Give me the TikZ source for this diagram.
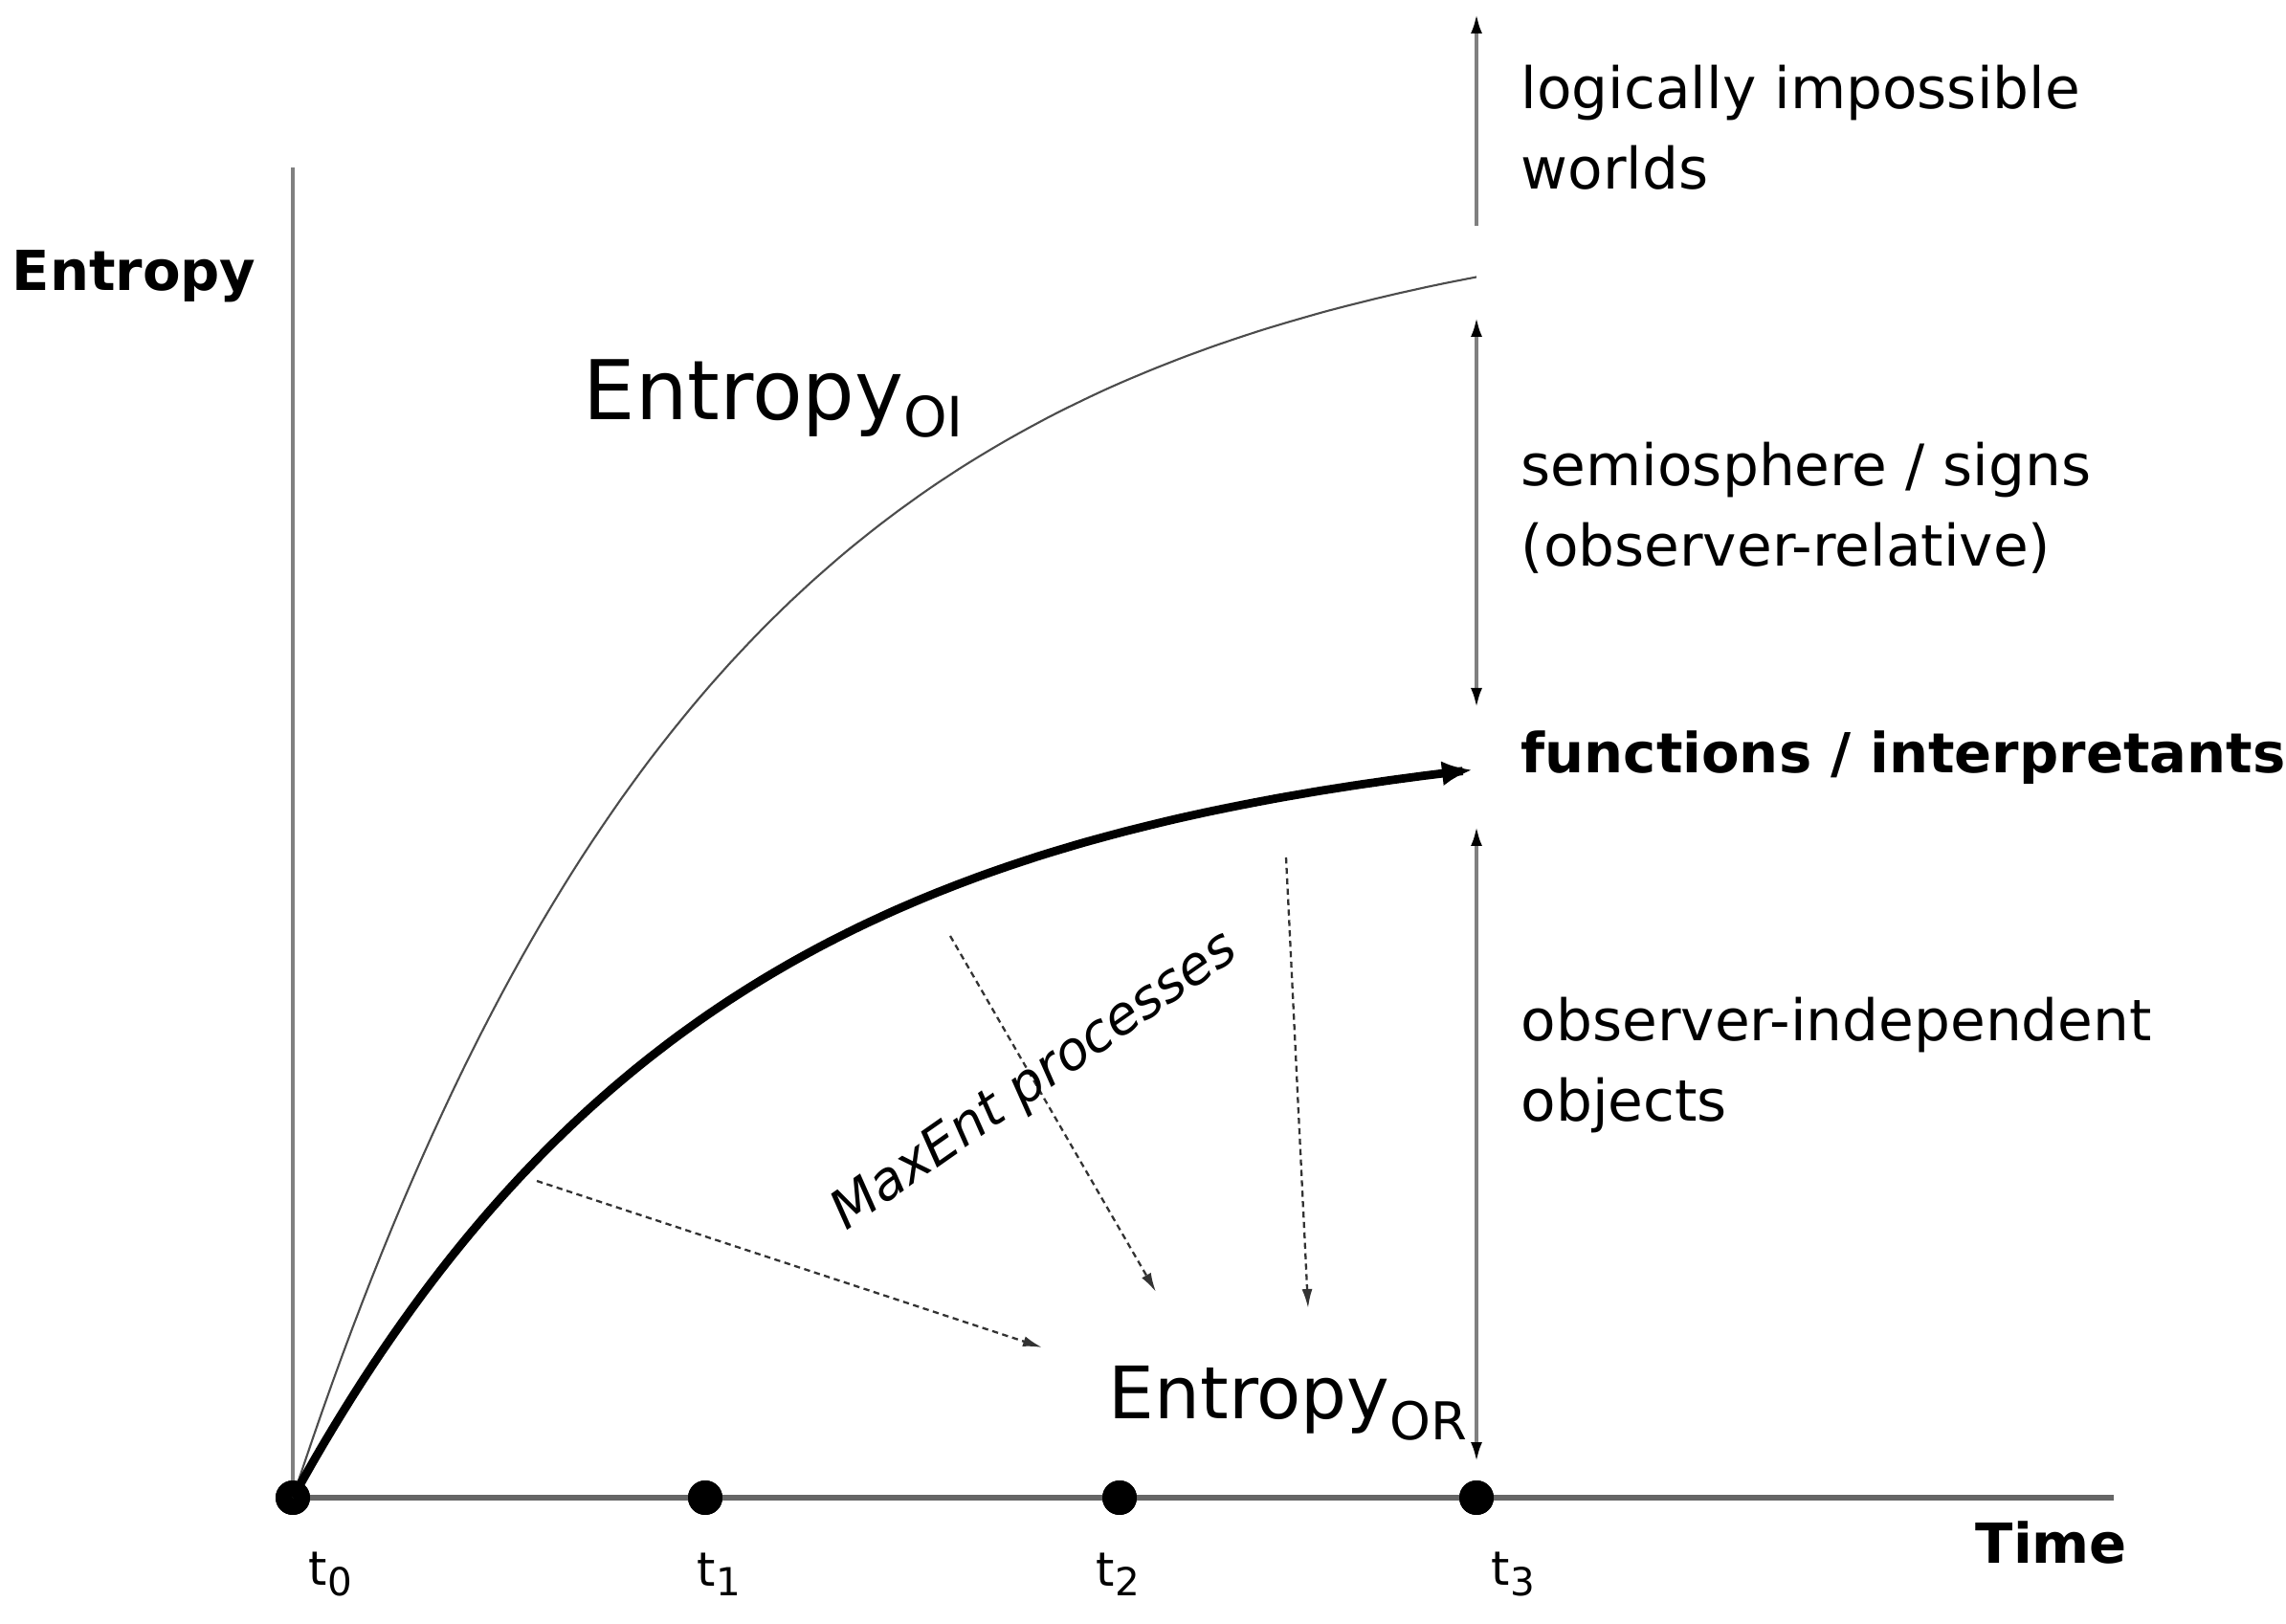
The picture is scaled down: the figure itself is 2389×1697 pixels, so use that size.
\documentclass[tikz,border=0pt]{standalone}
\usepackage{fontspec}
\setmainfont{DejaVu Sans}
\usetikzlibrary{arrows.meta}
\begin{document}
\begin{tikzpicture}[x=0.1mm,y=-0.1mm,
  dot/.style={circle,fill=black,inner sep=0pt,minimum size=3.6mm},
  axisline/.style={draw=black!60,line width=1.7pt},
  yaxisline/.style={draw=black!50,line width=0.9pt},
  rangearrow/.style={draw=black!50,line width=0.9pt},
  dasharrow/.style={draw=black!80,line width=0.65pt,dash pattern=on 1.8pt off 1.3pt,-{Latex[length=2mm,width=1.1mm]}},
  thincurve/.style={draw=black!70,line width=0.6pt},
  thickcurve/.style={draw=black,line width=2.5pt,-{Latex[length=3.2mm,width=2.6mm]}},
  txt/.style={font=\fontsize{17}{23.9}\selectfont,align=left,anchor=west,inner sep=0pt},
  boldtxt/.style={font=\fontsize{16.4}{20}\selectfont\bfseries,anchor=west,inner sep=0pt},
  tlabel/.style={font=\fontsize{14}{16}\selectfont,anchor=west,inner sep=0pt},
]
\useasboundingbox[fill=white] (0,0) rectangle (2389,1697);
\newcommand{\tsub}[1]{t\raisebox{-3pt}{\fontsize{11.5}{12}\selectfont #1}}

% axes
\coordinate (ytop) at (306,175);
\coordinate (xend) at (2209,1565);
\node[dot] (t0) at (306,1565) {};
\node[dot] (t1) at (737,1565) {};
\node[dot] (t2) at (1170,1565) {};
\node[dot] (t3) at (1543,1565) {};
\draw[yaxisline] (ytop) -- (t0.center);
\draw[axisline] (t0.center) -- (xend);
\node[dot] at (t0) {};
\node[dot] at (t1) {};
\node[dot] at (t2) {};
\node[dot] at (t3) {};

% time labels
\node[tlabel] (l0) at (322,1645) {\tsub{0}};
\node[tlabel] (l1) at (728,1645) {\tsub{1}};
\node[tlabel] (l2) at (1145,1645) {\tsub{2}};
\node[tlabel] (l3) at (1558,1645) {\tsub{3}};

% axis titles
\node[boldtxt] (ylab) at (12,289) {Entropy};
\node[boldtxt] (xlab) at (2064,1612) {Time};

% curves
\draw[thincurve] plot[domain=0:1237,samples=120,variable=\u] ({306+\u},{1565-1360.3*(1-exp(-0.00225*\u))});
\draw[thickcurve] plot[domain=0:1233,samples=120,variable=\u] ({306+\u},{1565-811.6*(1-exp(-0.00225*\u))});

% right-hand ranges
\coordinate (r0a) at (1543,236);
\coordinate (r0b) at (1543,15);
\coordinate (r1a) at (1543,332);
\coordinate (r1b) at (1543,739);
\coordinate (r2a) at (1543,864);
\coordinate (r2b) at (1543,1527);
\draw[rangearrow,-{Latex[length=2mm,width=1.2mm,color=black]}] (r0a) -- (r0b);
\draw[rangearrow,{Latex[length=2mm,width=1.2mm,color=black]}-{Latex[length=2mm,width=1.2mm,color=black]}] (r1a) -- (r1b);
\draw[rangearrow,{Latex[length=2mm,width=1.2mm,color=black]}-{Latex[length=2mm,width=1.2mm,color=black]}] (r2a) -- (r2b);

% dashed MaxEnt arrows
\coordinate (d1a) at (561,1234);
\coordinate (d1b) at (1089,1408);
\coordinate (d2a) at (993,978);
\coordinate (d2b) at (1208,1350);
\coordinate (d3a) at (1344,896);
\coordinate (d3b) at (1367,1367);
\draw[dasharrow] (d1a) -- (d1b);
\draw[dasharrow] (d2a) -- (d2b);
\draw[dasharrow] (d3a) -- (d3b);

% texts
\node[txt] (limp) at (1589,133) {logically impossible\\worlds};
\node[txt] (semio) at (1589,531) {semiosphere / signs\\(observer-relative)};
\node[boldtxt] (func) at (1589,792) {functions / interpretants};
\node[txt] (obj) at (1589,1113) {observer-independent\\objects};

\node[anchor=base west,inner sep=0pt,font=\fontsize{24.5}{28}\selectfont] (eoi) at (609,439)
  {Entropy\raisebox{-5pt}{\fontsize{16.5}{18}\selectfont OI}};
\node[anchor=base west,inner sep=0pt,font=\fontsize{21.5}{26}\selectfont] (eor) at (1158,1482)
  {Entropy\raisebox{-6.5pt}{\fontsize{15.5}{18}\selectfont OR}};

\node[rotate=35,inner sep=0pt,font=\fontsize{15.8}{18}\selectfont\itshape] (maxent) at (1082,1131) {MaxEnt processes};
\end{tikzpicture}
\end{document}
